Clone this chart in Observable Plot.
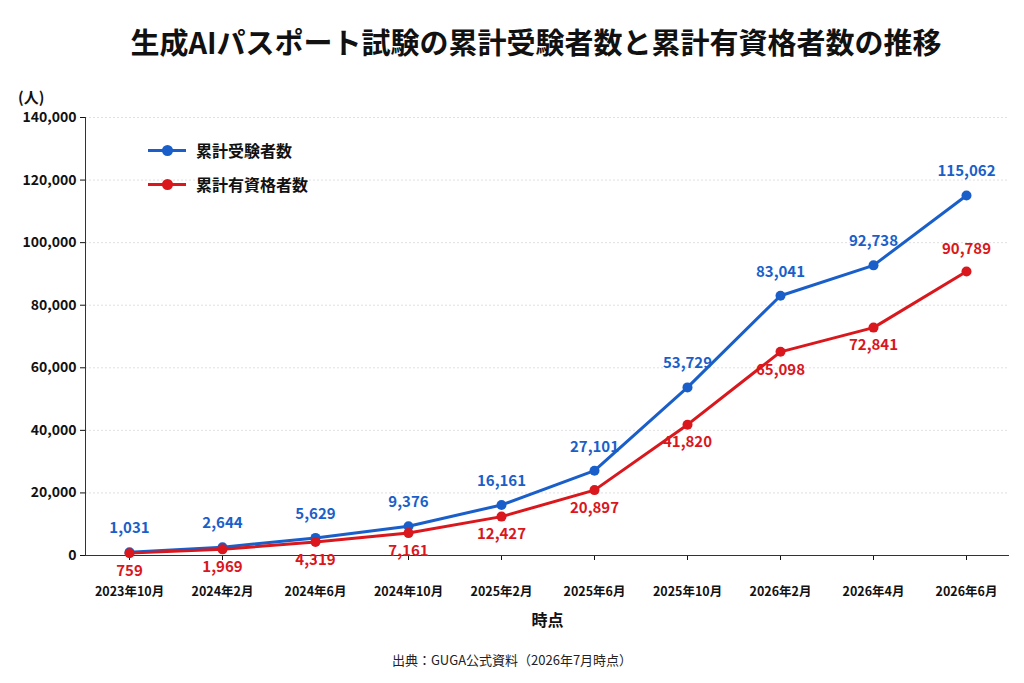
<!DOCTYPE html>
<html><head><meta charset="utf-8">
<script src="https://cdn.jsdelivr.net/npm/d3@7"></script>
<script src="https://cdn.jsdelivr.net/npm/@observablehq/plot@0.6"></script>
<style>
body{margin:0;background:#fff;font-family:"Noto Sans CJK JP","Noto Sans",sans-serif;}
#wrap{position:relative;width:1024px;height:683px;}
#title{position:absolute;top:20px;left:24px;width:1024px;text-align:center;font-size:29px;font-weight:700;color:#111;}
#unit{position:absolute;top:86px;left:18px;font-size:15px;font-weight:700;color:#111;}
#chart{position:absolute;top:85px;left:0;}
#cap{position:absolute;top:650px;left:0;width:1024px;text-align:center;font-size:13px;color:#222;}
.lg{position:absolute;left:148px;font-size:16px;font-weight:700;color:#111;display:flex;align-items:center;}
.lg i{display:inline-block;width:38px;height:3px;position:relative;margin-right:10px;}
.lg i b{position:absolute;left:14px;top:-4px;width:11px;height:11px;border-radius:50%;}
</style></head><body>
<div id="wrap">
<div id="title">生成AIパスポート試験の累計受験者数と累計有資格者数の推移</div>
<div id="unit">(人)</div>
<div id="chart"></div>
<div class="lg" style="top:138px"><i style="background:#1a5fc9"><b style="background:#1a5fc9"></b></i>累計受験者数</div>
<div class="lg" style="top:172px"><i style="background:#d9171c"><b style="background:#d9171c"></b></i>累計有資格者数</div>
<div id="cap">出典：GUGA公式資料（2026年7月時点）</div>
</div>
<script>
const periods=["2023年10月","2024年2月","2024年6月","2024年10月","2025年2月","2025年6月","2025年10月","2026年2月","2026年4月","2026年6月"];
const examinees=[1031,2644,5629,9376,16161,27101,53729,83041,92738,115062];
const qualified=[759,1969,4319,7161,12427,20897,41820,65098,72841,90789];
const blue="#1a5fc9", red="#d9171c";
const A=periods.map((p,i)=>({p,v:examinees[i]}));
const B=periods.map((p,i)=>({p,v:qualified[i],last:i===periods.length-1}));
const fmt=d3.format(",");
const chart=Plot.plot({
  width:1024,height:555,marginTop:32,marginBottom:85,marginLeft:85,marginRight:15,
  style:{fontFamily:"'Noto Sans CJK JP',sans-serif",fontSize:"13px",color:"#111"},
  x:{type:"point",domain:periods,padding:0.46,label:null},
  y:{domain:[0,140000],ticks:d3.range(0,140001,20000),label:null},
  marks:[
    Plot.gridY(d3.range(20000,140001,20000),{stroke:"#ccc",strokeOpacity:0.6,strokeDasharray:"2,2"}),
    Plot.axisY({ticks:d3.range(0,140001,20000),tickFormat:fmt,fontWeight:700,fontSize:14,tickSize:5,label:null}),
    Plot.axisX({fontWeight:700,fontSize:12.5,tickSize:5,tickPadding:27,label:null}),
    Plot.ruleY([0],{stroke:"#333"}),
    Plot.frame({anchor:"left",stroke:"#333"}),
    Plot.line(A,{x:"p",y:"v",stroke:blue,strokeWidth:3}),
    Plot.line(B,{x:"p",y:"v",stroke:red,strokeWidth:3}),
    Plot.dot(A,{x:"p",y:"v",fill:blue,r:5}),
    Plot.dot(B,{x:"p",y:"v",fill:red,r:5}),
    Plot.text(A,{x:"p",y:"v",text:d=>fmt(d.v),dy:-24,fill:blue,fontWeight:700,fontSize:15}),
    Plot.text(B.filter(d=>!d.last),{x:"p",y:"v",text:d=>fmt(d.v),dy:18,fill:red,fontWeight:700,fontSize:15}),
    Plot.text(B.filter(d=>d.last),{x:"p",y:"v",text:d=>fmt(d.v),dy:-22,fill:red,fontWeight:700,fontSize:15}),
    Plot.text(["時点"],{frameAnchor:"bottom",dy:70,fontWeight:700,fontSize:16})
  ]
});
document.getElementById("chart").append(chart);
</script>
</body></html>
